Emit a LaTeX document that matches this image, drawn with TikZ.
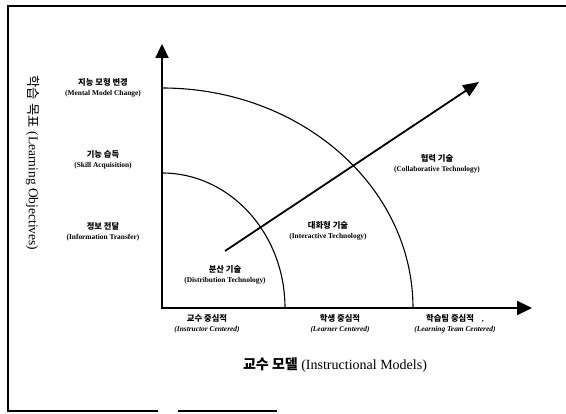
\documentclass[tikz,border=0pt]{standalone}
\usepackage{fontspec}
\setmainfont{Liberation Serif}
\newfontfamily\kr{Noto Sans CJK KR}
\usetikzlibrary{arrows.meta}
\tikzset{
  axisline/.style={line width=2.3pt},
  arcline/.style={line width=1.1pt},
  trendline/.style={line width=1.8pt},
  framel/.style={line width=1.2pt},
  smalllab/.style={align=center, inner sep=0pt, font=\fontsize{7.4}{10.5}\selectfont\bfseries},
}
\newcommand{\krb}[1]{{\kr\bfseries\fontsize{8.3}{10.5}\selectfont #1}}
\newcommand{\krB}[1]{{\kr\bfseries #1}}
\begin{document}
\begin{tikzpicture}[x=1pt,y=-1pt]
\useasboundingbox (0,0) rectangle (566,414);
% frame
\coordinate (FTL) at (8,6);
\coordinate (FTR) at (566,6);
\coordinate (FBL) at (8,411);
\coordinate (FB1) at (158,411);
\coordinate (FB2) at (178,411);
\coordinate (FB3) at (277,411);
\draw[framel] (FTR) -- (FTL) -- (FBL) -- (FB1);
\draw[framel] (FB2) -- (FB3);
% axes
\coordinate (O) at (162,308);
\coordinate (Ytip) at (162,44);
\coordinate (Xtip) at (532,308);
\draw[axisline, {Triangle[length=14pt,width=13pt]}-{Triangle[length=15pt,width=14pt]}] (Ytip) -- (O) -- (Xtip);
% arcs
\draw[arcline] (162,173) arc[start angle=-90, end angle=0, x radius=123, y radius=135];
\draw[arcline] (162,88) arc[start angle=-90, end angle=0, x radius=251, y radius=220];
% trend arrow
\coordinate (Tstart) at (225,251);
\coordinate (Tend) at (479,82);
\draw[trendline, -{Triangle[length=16pt,width=13pt]}] (Tstart) -- (Tend);
% y labels
\node[smalllab] (ymc) at (103,88) {\krb{지능 모형 변경}\\(Mental Model Change)};
\node[smalllab] (ysa) at (103,160) {\krb{기능 습득}\\(Skill Acquisition)};
\node[smalllab] (yit) at (103,232) {\krb{정보 전달}\\(Information Transfer)};
\node[rotate=-90, inner sep=0pt, font=\fontsize{13.5}{15}\selectfont] (ytitle) at (33,163) {{\kr 학습 목표} (Learning Objectives)};
% technology labels
\node[smalllab] (tdist) at (225,275) {\krb{분산 기술}\\(Distribution Technology)};
\node[smalllab] (tint) at (328,231) {\krb{대화형 기술}\\(Interactive Technology)};
\node[smalllab] (tcol) at (437,164) {\krb{협력 기술}\\(Collaborative Technology)};
% x labels
\node[smalllab] (xic) at (207,324) {\krb{교수 중심적}\\\textit{(Instructor Centered)}};
\node[smalllab] (xlc) at (340,324) {\krb{학생 중심적}\\\textit{(Learner Centered)}};
\node[smalllab] (xtc) at (455,324) {\krb{학습팀 중심적}\hspace{8pt},\\\textit{(Learning Team Centered)}};
\node[inner sep=0pt, font=\fontsize{14}{16}\selectfont] (xtitle) at (335,365) {\krB{교수 모델} (Instructional Models)};
\end{tikzpicture}
\end{document}
